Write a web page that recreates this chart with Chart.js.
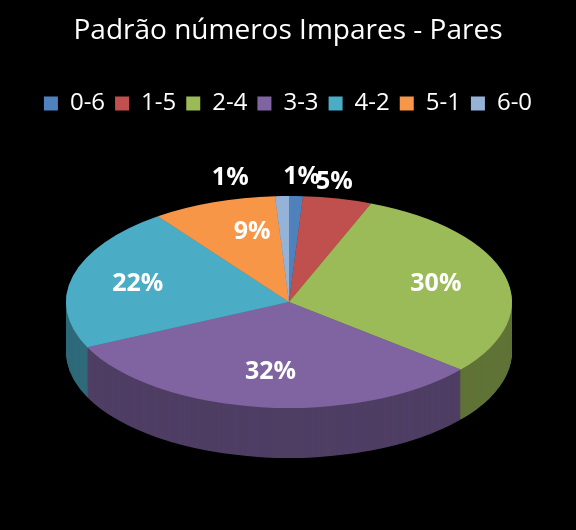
<!DOCTYPE html>
<html><head><meta charset="utf-8">
<script src="https://cdn.jsdelivr.net/npm/chart.js@4"></script>
<style>html,body{margin:0;background:#000}#w{width:576px;height:530px}</style>
</head><body><div id="w"><canvas id="c"></canvas></div>
<script>
const categories = ['0-6','1-5','2-4','3-3','4-2','5-1','6-0'];
const values = [1,5,30,32,22,9,1];
const colors = ['#4F81BD','#C0504D','#9BBB59','#8064A2','#4BACC6','#F79646','#95B3D7'];
const labelRadii = [1.22,1.22,0.68,0.66,0.7,0.62,1.25];

const E = {cx:289, cy:302, rx:223, ry:106, depth:50};
function dark(h,f){const n=parseInt(h.slice(1),16);return `rgb(${(n>>16&255)*f|0},${(n>>8&255)*f|0},${(n&255)*f|0})`;}
const pie3d = {
  id:'pie3d',
  beforeDatasetsDraw(chart){
    const meta=chart.getDatasetMeta(0), ctx=chart.ctx, a=meta.data[0];
    const r=a.outerRadius, sx=E.rx/r, sy=E.ry/r;
    const T=(dy)=>{ctx.translate(E.cx,E.cy+dy);ctx.scale(sx,sy);ctx.translate(-a.x,-a.y);};
    for(let k=E.depth;k>=1;k--){
      ctx.save();T(k);
      meta.data.forEach((el,i)=>{const o=el.options.backgroundColor;el.options.backgroundColor=dark(colors[i],0.62);el.draw(ctx);el.options.backgroundColor=o;});
      ctx.restore();
    }
    ctx.save();T(0);
  },
  afterDatasetsDraw(chart){
    const ctx=chart.ctx; ctx.restore();
    const meta=chart.getDatasetMeta(0);
    ctx.save();ctx.fillStyle='#fff';ctx.font='bold 25px "Open Sans", sans-serif';ctx.textAlign='center';ctx.textBaseline='middle';
    meta.data.forEach((el,i)=>{
      const m=(el.startAngle+el.endAngle)/2, f=labelRadii[i];
      let x=E.cx+Math.cos(m)*E.rx*f, y=E.cy+Math.sin(m)*E.ry*f;
      if(i===0){x+=4;y+=4;} if(i===6){x-=50;y+=8;} if(i===1){x-=14;y+=6;} if(i===5){x+=10;y-=8;}
      ctx.fillText(values[i]+'%',x,y);
    });
    ctx.restore();
  }
};
new Chart(document.getElementById('c'),{
  type:'pie',
  data:{labels:categories,datasets:[{data:values,backgroundColor:colors,borderWidth:0}]},
  options:{responsive:true,maintainAspectRatio:false,animation:false,
    layout:{padding:{bottom:20}},
    plugins:{
      tooltip:{enabled:false},
      title:{display:true,text:'Padrão números Impares - Pares',color:'#fff',font:{size:28,family:'"Open Sans", sans-serif',weight:'normal'},padding:{top:14,bottom:34}},
      legend:{position:'top',labels:{color:'#fff',boxWidth:14,boxHeight:14,padding:10,font:{size:24,family:'"Open Sans", sans-serif'}}}
    }},
  plugins:[pie3d]
});
</script></body></html>
